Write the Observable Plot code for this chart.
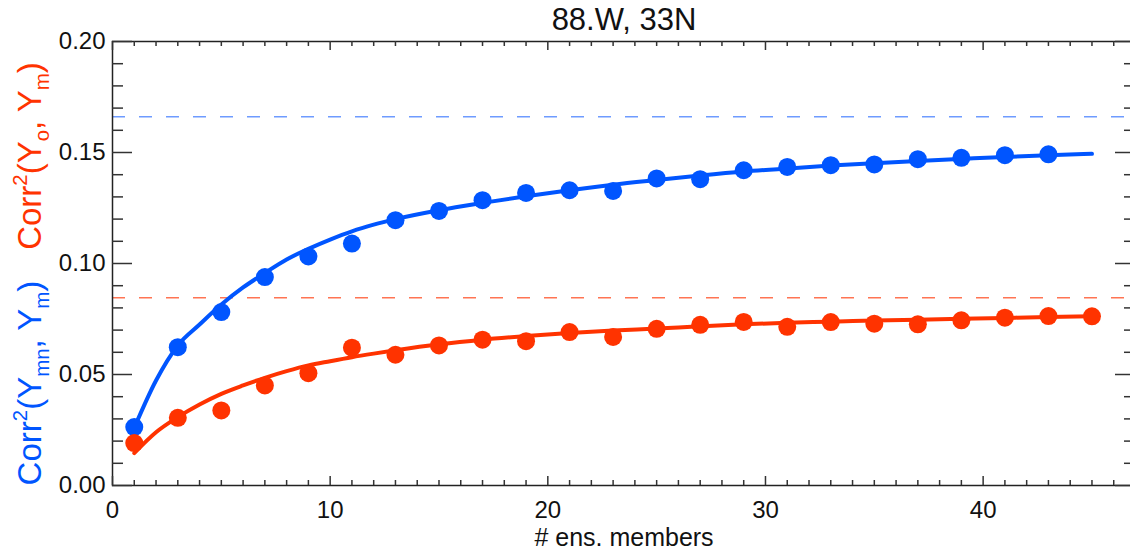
<!DOCTYPE html>
<html>
<head>
<meta charset="utf-8">
<script src="https://cdn.jsdelivr.net/npm/d3@7"></script>
<script src="https://cdn.jsdelivr.net/npm/@observablehq/plot@0.6"></script>
<style>
html, body { margin: 0; padding: 0; background: #fff; overflow: hidden; }
#chart svg { display: block; }
</style>
</head>
<body>
<div id="chart"></div>
<script>
// ---- text ----
const title = "88.W, 33N";
const xLabel = "# ens. members";
const yLabelRed = [["Corr", ""], ["2", "sup"], ["(Y", ""], ["o", "sub"], [", Y", ""], ["m", "sub"], [")", ""]];
const yLabelBlue = [["Corr", ""], ["2", "sup"], ["(Y", ""], ["mn", "sub"], [", Y", ""], ["m", "sub"], [")", ""]];

// ---- ticks ----
const xTicks = [0, 10, 20, 30, 40];
const xTickLabels = ["0", "10", "20", "30", "40"];
const xMinorTicks = [1,2,3,4,5,6,7,8,9,11,12,13,14,15,16,17,18,19,21,22,23,24,25,26,27,28,29,31,32,33,34,35,36,37,38,39,41,42,43,44,45,46];
const yTicks = [0, 0.05, 0.10, 0.15, 0.20];
const yTickLabels = ["0.00", "0.05", "0.10", "0.15", "0.20"];
const yMinorTicks = [0.01,0.02,0.03,0.04,0.06,0.07,0.08,0.09,0.11,0.12,0.13,0.14,0.16,0.17,0.18,0.19];

// ---- data: points ----
const blueN = [1,3,5,7,9,11,13,15,17,19,21,23,25,27,29,31,33,35,37,39,41,43];
const blueVal = [0.0263,0.0623,0.0781,0.0939,0.1032,0.1090,0.1195,0.1237,0.1285,0.1318,0.1330,0.1327,0.1383,0.1380,0.1420,0.1435,0.1443,0.1446,0.1470,0.1476,0.1488,0.1492];
const redN = [1,3,5,7,9,11,13,15,17,19,21,23,25,27,29,31,33,35,37,39,41,43,45];
const redVal = [0.0191,0.0305,0.0338,0.0451,0.0506,0.0621,0.0589,0.0631,0.0657,0.0650,0.0691,0.0669,0.0706,0.0724,0.0737,0.0715,0.0736,0.0729,0.0726,0.0744,0.0756,0.0763,0.0762];

// ---- data: fitted curves ----
const fitN = [1,2,3,4,5,6,7,8,9,10,11,12,13,15,17,19,21,23,25,27,29,31,33,35,37,39,41,43,45];
const blueFit = [0.0260,0.0473,0.0631,0.0725,0.0815,0.0892,0.0957,0.1018,0.1066,0.1108,0.1145,0.1175,0.1200,0.1240,0.1273,0.1303,0.1330,0.1355,0.1376,0.1396,0.1414,0.1428,0.1441,0.1452,0.1462,0.1471,0.1480,0.1488,0.1494];
const redFit = [0.0146,0.0240,0.0308,0.0365,0.0413,0.0451,0.0485,0.0515,0.0541,0.0560,0.0578,0.0594,0.0609,0.0636,0.0657,0.0673,0.0687,0.0698,0.0707,0.0717,0.0726,0.0733,0.0738,0.0743,0.0747,0.0751,0.0755,0.0759,0.0762];

// ---- asymptotes ----
const blueAsym = [0.1661];
const redAsym = [0.0846];

// ---- styling ----
const W = 1130, H = 552;
const mL = 112, mR = -5, mT = 41, mB = 67;
const plotW = W - mL - mR, plotH = H - mT - mB;
const BLUE = "#0055ff", RED = "#ff3300";
const FONT = "'Liberation Sans', Arial, Helvetica, sans-serif";
const tickColor = "#333";

const bluePts = blueN.map((n, i) => ({n, v: blueVal[i]}));
const redPts = redN.map((n, i) => ({n, v: redVal[i]}));
const blueLine = fitN.map((n, i) => ({n, v: blueFit[i]}));
const redLine = fitN.map((n, i) => ({n, v: redFit[i]}));

const plot = Plot.plot({
  width: W, height: H,
  marginLeft: mL, marginRight: mR, marginTop: mT, marginBottom: mB,
  x: {domain: [0, 47], axis: null},
  y: {domain: [0, 0.2], axis: null},
  style: {fontFamily: FONT, background: "#fff", color: "#111"},
  marks: [
    // asymptotes
    Plot.ruleY(blueAsym, {y: d => d, stroke: "#6e9bff", strokeWidth: 1.5, strokeDasharray: "13,14"}),
    Plot.ruleY(redAsym, {y: d => d, stroke: "#ff7453", strokeWidth: 1.5, strokeDasharray: "13,14"}),
    // fitted curves
    Plot.line(blueLine, {x: "n", y: "v", stroke: BLUE, strokeWidth: 4, curve: "monotone-x"}),
    Plot.line(redLine, {x: "n", y: "v", stroke: RED, strokeWidth: 4, curve: "monotone-x"}),
    // points
    Plot.dot(bluePts, {x: "n", y: "v", r: 9, fill: BLUE, stroke: "none"}),
    Plot.dot(redPts, {x: "n", y: "v", r: 9, fill: RED, stroke: "none"}),
    // frame
    Plot.frame({stroke: "#222", strokeWidth: 1.5}),
    // y ticks (inward, left & right)
    Plot.tickY(yTicks, {y: d => d, stroke: tickColor, strokeWidth: 1.5, insetRight: plotW - 20}),
    Plot.tickY(yMinorTicks, {y: d => d, stroke: tickColor, strokeWidth: 1.5, insetRight: plotW - 11}),
    Plot.tickY(yTicks, {y: d => d, stroke: tickColor, strokeWidth: 1.5, insetLeft: plotW - 20}),
    Plot.tickY(yMinorTicks, {y: d => d, stroke: tickColor, strokeWidth: 1.5, insetLeft: plotW - 11}),
    // x ticks (inward, bottom & top)
    Plot.tickX(xTicks, {x: d => d, stroke: tickColor, strokeWidth: 1.5, insetTop: plotH - 9}),
    Plot.tickX(xMinorTicks, {x: d => d, stroke: tickColor, strokeWidth: 1.5, insetTop: plotH - 5}),
    Plot.tickX(xTicks, {x: d => d, stroke: tickColor, strokeWidth: 1.5, insetBottom: plotH - 9}),
    Plot.tickX(xMinorTicks, {x: d => d, stroke: tickColor, strokeWidth: 1.5, insetBottom: plotH - 5}),
    // tick labels
    Plot.text(yTicks, {y: d => d, text: (d, i) => yTickLabels[i], frameAnchor: "left", dx: -7, textAnchor: "end", lineAnchor: "middle", fontSize: 24, fill: "#111"}),
    Plot.text(xTicks, {x: d => d, text: (d, i) => xTickLabels[i], frameAnchor: "bottom", dy: 25, textAnchor: "middle", lineAnchor: "middle", fontSize: 24, fill: "#111"}),
    // title and x label
    Plot.text([title], {text: d => d, frameAnchor: "top", lineAnchor: "bottom", dy: -12, fontSize: 31, fill: "#111"}),
    Plot.text([xLabel], {text: d => d, frameAnchor: "bottom", lineAnchor: "bottom", dy: 60, fontSize: 25, fill: "#111"})
  ]
});

document.getElementById("chart").appendChild(plot);

// rotated y labels with super/subscripts
const svg = d3.select(plot);
function addLabel(parts, color, cx, cy, size) {
  const t = svg.append("text")
    .attr("transform", `translate(${cx},${cy}) rotate(-90)`)
    .attr("text-anchor", "middle")
    .attr("fill", color)
    .style("font-family", FONT)
    .style("font-size", size + "px");
  let shift = 0;
  parts.forEach(([s, mode]) => {
    const target = mode === "sup" ? -0.42 * size : mode === "sub" ? 0.24 * size : 0;
    const ts = t.append("tspan").text(s).attr("dy", target - shift);
    shift = target;
    if (mode) ts.style("font-size", (size * 0.62) + "px");
  });
}
addLabel(yLabelRed, RED, 41, 156, 33);
addLabel(yLabelBlue, BLUE, 41, 383, 33);
</script>
</body>
</html>
